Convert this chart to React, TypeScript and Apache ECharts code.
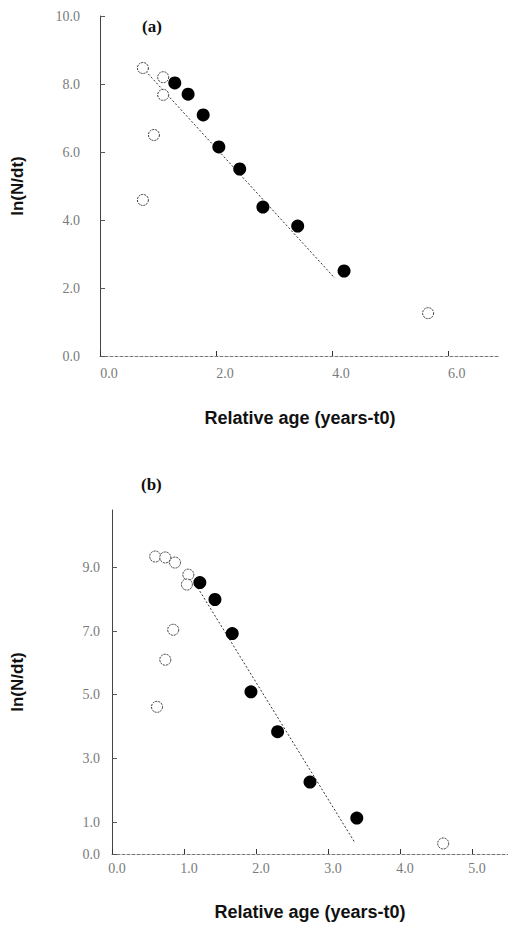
import React, { useEffect, useRef } from "react";
import * as echarts from "echarts";

// Panel (a)
const aOpenX = [0.74, 1.09, 1.09, 0.93, 0.74, 5.66];
const aOpenY = [8.47, 8.2, 7.68, 6.5, 4.59, 1.26];
const aFilledX = [1.29, 1.52, 1.78, 2.05, 2.41, 2.81, 3.41, 4.21];
const aFilledY = [8.03, 7.7, 7.09, 6.15, 5.5, 4.38, 3.82, 2.5];
const aFitX = [0.74, 4.05];
const aFitY = [8.47, 2.29];
const aXTicks = [0, 2, 4, 6];
const aYTicks = [0, 2, 4, 6, 8, 10];

// Panel (b)
const bOpenX = [0.6, 0.74, 0.875, 1.06, 1.04, 0.85, 0.74, 0.625, 4.6];
const bOpenY = [9.34, 9.31, 9.15, 8.77, 8.46, 7.04, 6.1, 4.62, 0.33];
const bFilledX = [1.22, 1.43, 1.67, 1.93, 2.3, 2.75, 3.4];
const bFilledY = [8.52, 7.99, 6.92, 5.09, 3.84, 2.26, 1.13];
const bFitX = [1.19, 3.375];
const bFitY = [8.36, 0.35];
const bXTicks = [0, 1, 2, 3, 4, 5];
const bYTicks = [0, 1, 3, 5, 7, 9];

const zip = (xs: number[], ys: number[]) => xs.map((x, i) => [x, ys[i]]);

const labelStyle = {
  color: "#7a7a7a",
  fontFamily: "Liberation Serif",
  fontSize: 14,
};
const titleStyle = {
  color: "#111",
  fontFamily: "Liberation Sans",
  fontWeight: "bold" as const,
  fontSize: 18,
};

export default function App() {
  const ref = useRef<HTMLDivElement>(null);
  useEffect(() => {
    if (!ref.current) return;
    const chart = echarts.init(ref.current, null, { renderer: "svg" });
    const fmt = (v: number) => v.toFixed(1);
    const mkX = (gridIndex: number, max: number, ticks: number[], margin: number, nameGap: number, shift: number) => ({
      type: "value",
      gridIndex,
      min: 0,
      max,
      name: "Relative age (years-t0)",
      nameLocation: "middle",
      nameGap,
      nameTextStyle: titleStyle,
      splitLine: { show: false },
      axisLine: { show: true, lineStyle: { color: "#777", width: 1, type: [3, 2] } },
      axisTick: { show: true, inside: true, length: 5, customValues: ticks, lineStyle: { color: "#333" } },
      axisLabel: { ...labelStyle, margin, formatter: fmt, customValues: ticks, padding: [0, 0, 0, shift] },
    });
    const mkY = (gridIndex: number, max: number, ticks: number[], margin: number, nameGap: number) => ({
      type: "value",
      gridIndex,
      min: 0,
      max,
      name: "ln(N/dt)",
      nameLocation: "middle",
      nameGap,
      nameTextStyle: { ...titleStyle, fontSize: 17 },
      splitLine: { show: false },
      axisLine: { show: true, lineStyle: { color: "#444", width: 1 } },
      axisTick: { show: true, inside: true, length: 5, customValues: ticks, lineStyle: { color: "#555" } },
      axisLabel: { ...labelStyle, margin, formatter: fmt, customValues: ticks },
    });
    const openStyle = { color: "#fff", borderColor: "#333", borderWidth: 1, borderType: [2, 1], opacity: 1 };
    const filledStyle = { color: "#000", opacity: 1 };
    const fitLine = (xi: number, data: number[][]) => ({
      type: "line",
      xAxisIndex: xi,
      yAxisIndex: xi,
      data,
      symbol: "none",
      lineStyle: { color: "#333", width: 1, type: [2, 2] },
      z: 1,
    });
    const panelStyle = { fontFamily: "Liberation Serif", fontWeight: "bold", fontSize: 17, color: "#111" };
    chart.setOption({
      animation: false,
      backgroundColor: "#fff",
      title: [
        { text: "(a)", left: 137, top: 13, textStyle: panelStyle },
        { text: "(b)", left: 136, top: 471, textStyle: panelStyle },
      ],
      grid: [
        { left: 100, top: 16, width: 400, height: 340, containLabel: false, outerBoundsMode: "none" },
        { left: 112, top: 510, width: 396, height: 344, containLabel: false, outerBoundsMode: "none" },
      ],
      xAxis: [mkX(0, 6.9, aXTicks, 10, 53, 18), mkX(1, 5.5, bXTicks, 7, 49, 10)],
      yAxis: [mkY(0, 10, aYTicks, 20, 74), mkY(1, 10.8, bYTicks, 12, 86)],
      series: [
        fitLine(0, zip(aFitX, aFitY)),
        {
          type: "scatter", xAxisIndex: 0, yAxisIndex: 0, data: zip(aOpenX, aOpenY),
          symbol: "circle", symbolSize: 11, itemStyle: openStyle, z: 2,
        },
        {
          type: "scatter", xAxisIndex: 0, yAxisIndex: 0, data: zip(aFilledX, aFilledY),
          symbol: "circle", symbolSize: 13, itemStyle: filledStyle, z: 3,
        },
        fitLine(1, zip(bFitX, bFitY)),
        {
          type: "scatter", xAxisIndex: 1, yAxisIndex: 1, data: zip(bOpenX, bOpenY),
          symbol: "circle", symbolSize: 11, itemStyle: openStyle, z: 2,
        },
        {
          type: "scatter", xAxisIndex: 1, yAxisIndex: 1, data: zip(bFilledX, bFilledY),
          symbol: "circle", symbolSize: 13, itemStyle: filledStyle, z: 3,
        },
      ],
    });
    return () => chart.dispose();
  }, []);
  return (
    <div
      ref={ref}
      style={{ position: "fixed", left: 0, top: 0, width: 508, height: 925, background: "#fff" }}
    />
  );
}
